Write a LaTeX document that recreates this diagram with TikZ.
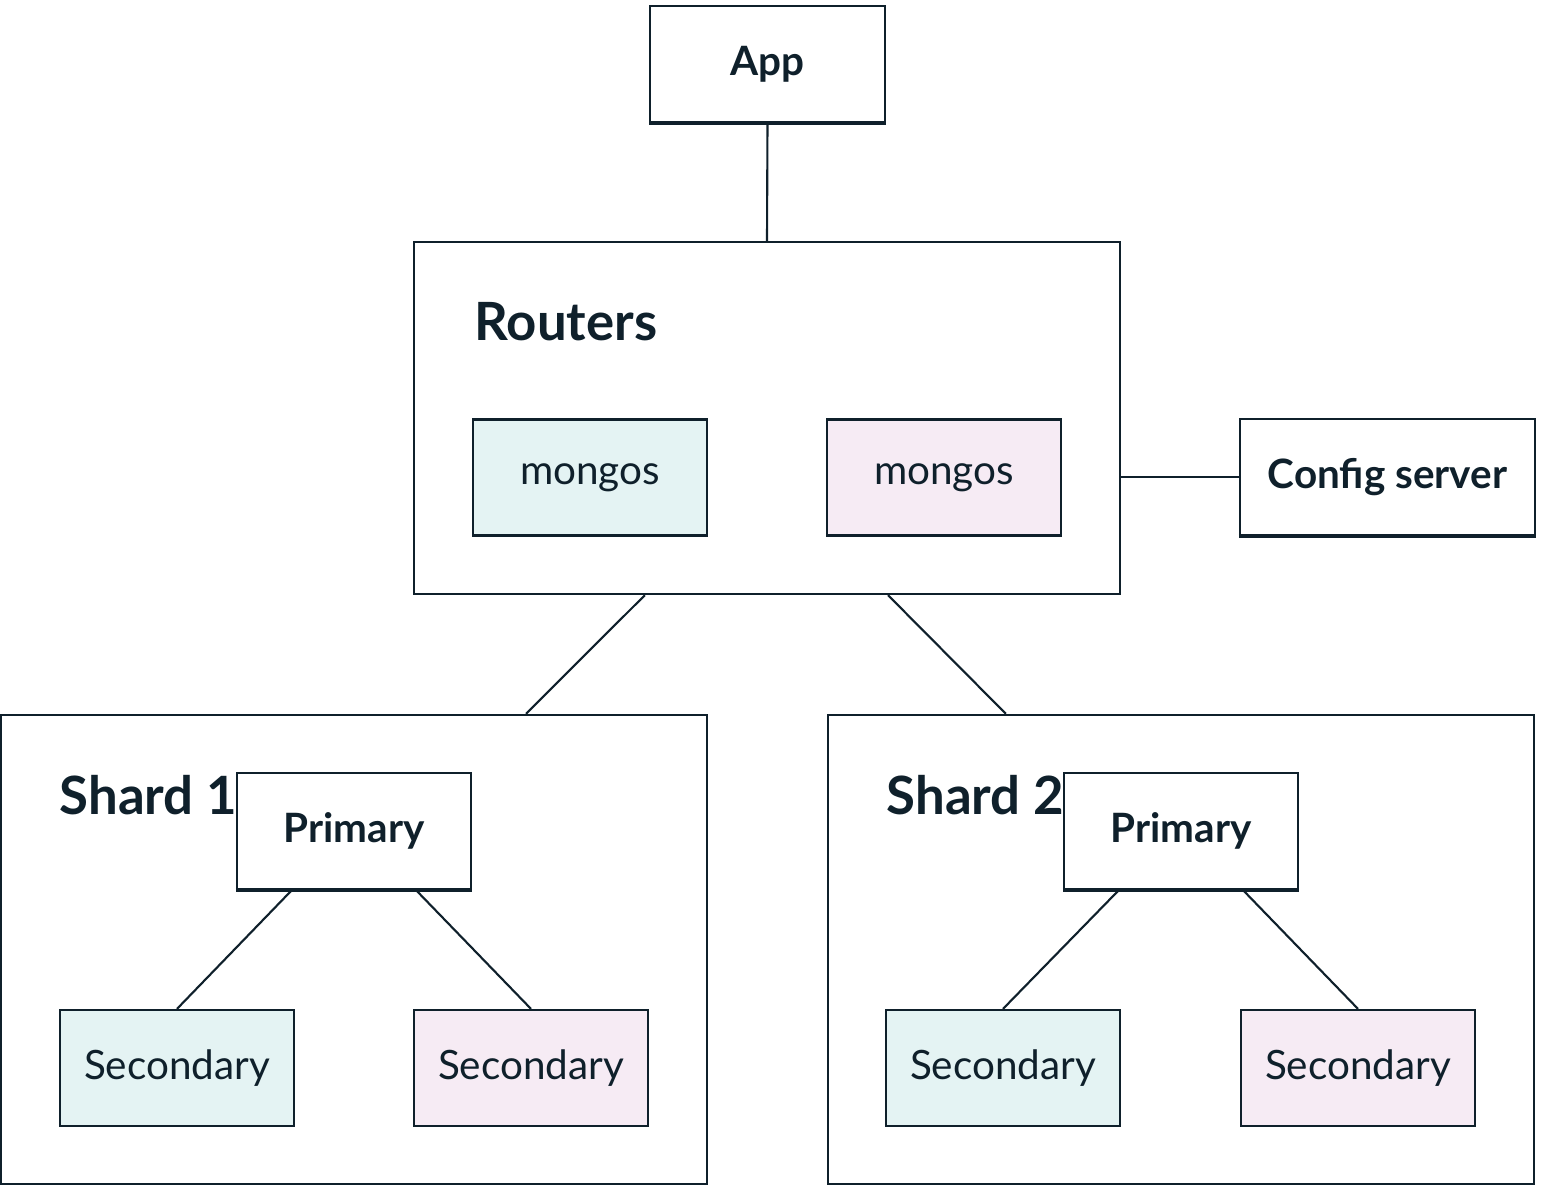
\documentclass[tikz,border=0pt]{standalone}
\usepackage{fontspec}
\setmainfont{Lato}
\usetikzlibrary{positioning}
\definecolor{ink}{HTML}{0F202B}
\definecolor{teal}{HTML}{E4F3F3}
\definecolor{pink}{HTML}{F6EBF4}
\begin{document}
\begin{tikzpicture}[
            x=0.01cm, y=-0.01cm,
            box/.style={
                rectangle,
                draw=ink,
                line width=0.6pt,
                inner sep=0pt
            },
            item/.style={
                box,
                minimum width=2.34cm,
                minimum height=1.16cm,
                font=\fontsize{11.5}{13}\selectfont,
                text=ink
            },
            strong/.style={
                item,
                font=\fontsize{11.5}{13}\selectfont\bfseries,
                append after command={
                    (\tikzlastnode.south west) edge[draw=ink, line width=1.3pt] (\tikzlastnode.south east)
                }
            },
            title/.style={
                font=\fontsize{15}{17}\selectfont\bfseries,
                text=ink,
                anchor=west,
                inner sep=0pt
            },
            link/.style={draw=ink, line width=0.6pt}
        ]
        \useasboundingbox (0,0) rectangle (1541,1186);

        % Outer boxes
        \node[box, minimum width=7.06cm, minimum height=3.52cm] (routers) at (767,418) {};
        \node[box, minimum width=7.06cm, minimum height=4.69cm] (shard1) at (354,949.5) {};
        \node[box, minimum width=7.06cm, minimum height=4.69cm] (shard2) at (1181,949.5) {};

        % Titles
        \node[title] (t1) at (474,322) {Routers};
        \node[title] (t2) at (59,795) {Shard 1};
        \node[title] (t3) at (886,795) {Shard 2};

        % Top nodes
        \node[strong] (app) at (767.5,64) {App};
        \node[strong, minimum width=2.95cm] (config) at (1387.5,477) {Config server};

        % Routers
        \node[item, fill=teal] (m1) at (590,477.5) {mongos};
        \node[item, fill=pink] (m2) at (944,477.5) {mongos};

        % Shard 1
        \node[strong] (p1) at (354,831) {Primary};
        \node[item, fill=teal] (s11) at (177,1068) {Secondary};
        \node[item, fill=pink] (s12) at (531,1068) {Secondary};

        % Shard 2
        \node[strong] (p2) at (1181,831) {Primary};
        \node[item, fill=teal] (s21) at (1003,1068) {Secondary};
        \node[item, fill=pink] (s22) at (1358,1068) {Secondary};

        % Connecting lines
        \draw[link] (app.south) -- (routers.north);
        \draw[link] (routers.east |- config.west) -- (config.west);
        \draw[link] ([xshift=2.32cm]routers.south west) -- ([xshift=5.26cm]shard1.north west);
        \draw[link] ([xshift=4.75cm]routers.south west) -- ([xshift=1.79cm]shard2.north west);
        \draw[link] ([xshift=0.56cm]p1.south west) -- (s11.north);
        \draw[link] ([xshift=1.80cm]p1.south west) -- (s12.north);
        \draw[link] ([xshift=0.56cm]p2.south west) -- (s21.north);
        \draw[link] ([xshift=1.80cm]p2.south west) -- (s22.north);

\end{tikzpicture}
\end{document}
